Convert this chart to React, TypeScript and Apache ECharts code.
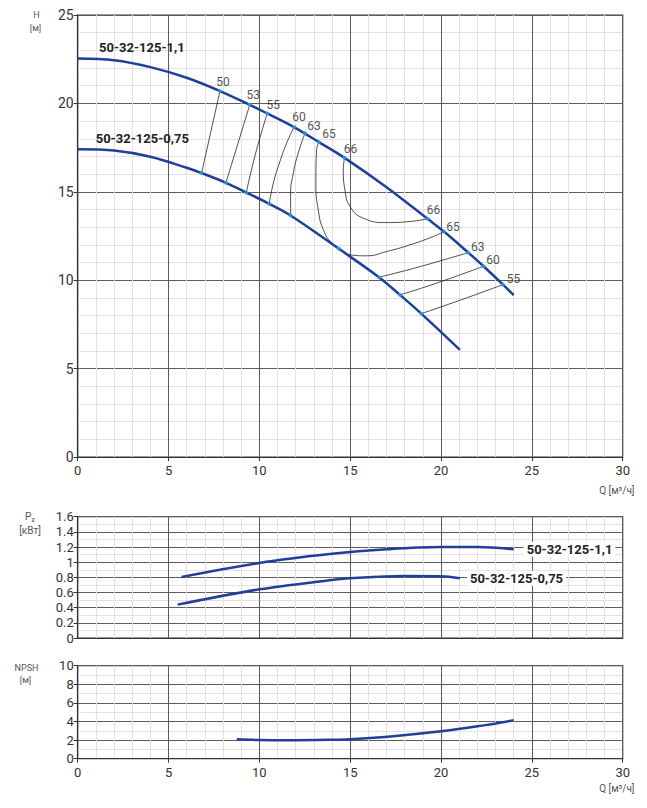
import React, { useEffect, useRef } from "react";
import * as echarts from "echarts";

// ---- Data (Q in m³/h) ----
const headLarge: [number, number][] = [
  [0, 22.54], [2, 22.44], [4, 22.05], [6, 21.45],
  [7.83, 20.7], [9.47, 19.92], [10.43, 19.43], [11.9, 18.66], [13.28, 17.81], [14.69, 16.92],
  [17, 15.26], [19.26, 13.47], [20.16, 12.75], [21.5, 11.56], [22.34, 10.79], [23.41, 9.75], [24.0, 9.15],
];
const headSmall: [number, number][] = [
  [0, 17.4], [2, 17.33], [4, 16.98], [6, 16.36],
  [6.82, 16.06], [8.16, 15.51], [9.28, 14.96], [10.54, 14.32], [11.72, 13.66], [14.36, 11.79],
  [16.58, 10.17], [17.74, 9.17], [18.91, 8.11], [21.04, 6.06],
];

const iso50: [number, number][] = [[7.83, 20.7], [6.82, 16.06]];
const iso53: [number, number][] = [[9.47, 19.92], [8.16, 15.51]];
const iso55: [number, number][] = [[10.43, 19.43], [9.8, 17.2], [9.28, 14.96]];
const iso60: [number, number][] = [[11.9, 18.64], [11.5, 17.75], [11.1, 16.62], [10.77, 15.49], [10.54, 14.32]];
const iso63: [number, number][] = [[12.51, 18.32], [12.14, 17.19], [11.87, 16.06], [11.72, 14.92], [11.72, 13.66]];
const iso65: [number, number][] = [
  [13.28, 17.81], [13.15, 17.37], [13.11, 15.49], [13.24, 13.98], [13.52, 12.85], [13.98, 12.09],
  [14.36, 11.79], [14.99, 11.43], [15.9, 11.38], [17.0, 11.62], [18.29, 12.0], [19.57, 12.47], [20.16, 12.75],
];
const iso66: [number, number][] = [
  [14.69, 16.92], [14.62, 16.24], [14.71, 15.11], [14.99, 14.17], [15.72, 13.51],
  [17.0, 13.26], [18.29, 13.32], [19.26, 13.47],
];
const iso63R: [number, number][] = [[16.58, 10.17], [18.6, 10.7], [21.5, 11.56]];
const iso60R: [number, number][] = [[17.74, 9.17], [19.8, 9.85], [22.34, 10.79]];
const iso55R: [number, number][] = [[18.91, 8.11], [21.0, 8.85], [23.41, 9.75]];

// efficiency marks [Q, H, η]
const effLabelsLeft: [number, number, number][] = [
  [7.83, 20.7, 50], [9.47, 19.92, 53], [10.43, 19.43, 55], [11.9, 18.66, 60],
  [12.51, 18.32, 63], [13.28, 17.81, 65], [14.69, 16.92, 66],
];
const effLabelsRight: [number, number, number][] = [
  [19.26, 13.47, 66], [20.16, 12.75, 65], [21.5, 11.56, 63], [22.34, 10.79, 60], [23.41, 9.75, 55],
];
const effLowerPoints: [number, number][] = [
  [6.82, 16.06], [8.16, 15.51], [9.28, 14.96], [10.54, 14.32], [11.72, 13.66],
  [14.36, 11.79], [16.58, 10.17], [17.74, 9.17], [18.91, 8.11],
];
// label placement (pixels) for the efficiency numbers
const labelOffsetsLeft: [number, number][] = [[3, -9], [3.5, -10], [6, -8], [5, -10], [9, -7.5], [10, -8], [6, -9]];
const labelOffsetsRight: [number, number][] = [[6, -9], [9, -5], [9.5, -6], [9.5, -6.5], [10.5, -6]];

const powerLarge: [number, number][] = [
  [5.72, 0.805], [10, 0.99], [14, 1.11], [17, 1.17], [20, 1.2], [22, 1.2], [24, 1.17],
];
const powerSmall: [number, number][] = [
  [5.5, 0.44], [10, 0.642], [13.85, 0.761], [15, 0.788], [18, 0.818], [20, 0.814], [21.04, 0.788],
];
const npsh: [number, number][] = [
  [8.76, 2.08], [10, 2.01], [11.5, 1.98], [13.85, 2.03], [15, 2.1], [17.5, 2.45],
  [20, 2.95], [22, 3.48], [24, 4.13],
];

const modelLarge = "50-32-125-1,1";
const modelSmall = "50-32-125-0,75";

const FONT = "Roboto";
const BLUE = "#1f3f99";
const DOT = "#1ea3e8";

function xAxis(gridIndex: number, showLabels: boolean) {
  return {
    type: "value",
    gridIndex,
    min: 0,
    max: 30,
    interval: 5,
    axisLine: { show: true, onZero: false, lineStyle: { color: "#333", width: 1.2 } },
    axisTick: { show: showLabels, length: 4, lineStyle: { color: "#333" } },
    axisLabel: { show: showLabels, color: "#333", fontSize: 13, fontFamily: FONT, margin: 7 },
    splitLine: { show: true, lineStyle: { color: "#5c5c5c", width: 1 } },
    minorTick: { show: true, splitNumber: 5, length: 0 },
    minorSplitLine: { show: true, lineStyle: { color: "#e2e2e2", width: 1 } },
  };
}

function yAxis(gridIndex: number, max: number, interval: number, minorSplit: number, fontSize: number) {
  return {
    type: "value",
    gridIndex,
    min: 0,
    max,
    interval,
    axisLine: { show: true, onZero: false, lineStyle: { color: "#333", width: 1.2 } },
    axisTick: { show: true, length: 4, lineStyle: { color: "#333" } },
    axisLabel: { color: "#333", fontSize, fontFamily: FONT, margin: 4 },
    splitLine: { show: true, lineStyle: { color: "#5c5c5c", width: 1 } },
    minorTick: { show: true, splitNumber: minorSplit, length: 0 },
    minorSplitLine: { show: true, lineStyle: { color: "#e2e2e2", width: 1 } },
  };
}

function curve(data: [number, number][], idx: number, extra: any = {}) {
  return {
    type: "line",
    xAxisIndex: idx,
    yAxisIndex: idx,
    data,
    smooth: 0.35,
    showSymbol: false,
    lineStyle: { color: BLUE, width: 2.5 },
    z: 3,
    silent: true,
    ...extra,
  };
}

function iso(data: [number, number][]) {
  return {
    type: "line",
    xAxisIndex: 0,
    yAxisIndex: 0,
    data,
    smooth: 0.5,
    showSymbol: false,
    lineStyle: { color: "#222", width: 0.8 },
    z: 2,
    silent: true,
  };
}

function effSeries(points: [number, number, number][], offsets: [number, number][]) {
  return {
    type: "scatter",
    xAxisIndex: 0,
    yAxisIndex: 0,
    symbolSize: 4,
    itemStyle: { color: DOT },
    z: 5,
    data: points.map((p, i) => ({ value: p, label: { offset: offsets[i] } })),
    label: {
      show: true,
      position: "inside",
      formatter: (p: any) => String(p.value[2]),
      color: "#222",
      fontSize: 12,
      fontFamily: FONT,
    },
  };
}

const smallText = (x: number, y: number, text: string, size = 9, align = "center") => ({
  type: "text",
  x,
  y,
  style: { text, fontSize: size, fontFamily: FONT, fill: "#555", align, verticalAlign: "middle" },
});

export default function App() {
  const ref = useRef<HTMLDivElement>(null);
  useEffect(() => {
    if (!ref.current) return;
    const chart = echarts.init(ref.current, undefined, { renderer: "svg" });
    const option: any = {
      animation: false,
      backgroundColor: "#fff",
      grid: [
        { left: 77.7, right: 24.3, top: 15, height: 442, show: true, borderColor: "#333", borderWidth: 1.2 },
        { left: 77.7, right: 24.3, top: 516.7, height: 121.3, show: true, borderColor: "#333", borderWidth: 1.2 },
        { left: 77.7, right: 24.3, top: 665.7, height: 93, show: true, borderColor: "#333", borderWidth: 1.2 },
      ],
      xAxis: [xAxis(0, true), xAxis(1, false), xAxis(2, true)],
      yAxis: [yAxis(0, 25, 5, 5, 14), yAxis(1, 1.6, 0.2, 2, 13), yAxis(2, 10, 2, 2, 13)],
      series: [
        iso(iso50), iso(iso53), iso(iso55), iso(iso60), iso(iso63), iso(iso65), iso(iso66),
        iso(iso63R), iso(iso60R), iso(iso55R),
        curve(headLarge, 0),
        curve(headSmall, 0),
        effSeries(effLabelsLeft, labelOffsetsLeft),
        effSeries(effLabelsRight, labelOffsetsRight),
        {
          type: "scatter",
          xAxisIndex: 0,
          yAxisIndex: 0,
          data: effLowerPoints,
          symbolSize: 4,
          itemStyle: { color: DOT },
          z: 5,
        },
        curve(powerLarge, 1, {
          name: modelLarge,
          endLabel: {
            show: true,
            formatter: modelLarge,
            distance: 10,
            backgroundColor: "#fff",
            padding: [1, 3],
            color: "#222",
            fontSize: 13,
            fontWeight: "bold",
            fontFamily: FONT,
          },
        }),
        curve(powerSmall, 1, {
          name: modelSmall,
          endLabel: {
            show: true,
            formatter: modelSmall,
            distance: 7,
            backgroundColor: "#fff",
            padding: [1, 3],
            color: "#222",
            fontSize: 13,
            fontWeight: "bold",
            fontFamily: FONT,
          },
        }),
        curve(npsh, 2),
      ],
      graphic: [
        {
          type: "text",
          x: 99,
          y: 47.3,
          z: 10,
          style: { text: modelLarge, fontSize: 13, fontWeight: "bold", fontFamily: FONT, fill: "#222", verticalAlign: "middle" },
        },
        {
          type: "text",
          x: 95.7,
          y: 138.3,
          z: 10,
          style: { text: modelSmall, fontSize: 13, fontWeight: "bold", fontFamily: FONT, fill: "#222", verticalAlign: "middle" },
        },
        smallText(36.5, 15, "H"),
        smallText(35.5, 28, "[м]"),
        smallText(634.5, 490.7, "Q [м³/ч]", 10, "right"),
        smallText(30, 516, "P₂", 10),
        smallText(30, 530, "[кВт]", 10),
        smallText(26.5, 668, "NPSH", 9),
        smallText(25.5, 680, "[м]", 9),
        smallText(634.5, 788.5, "Q [м³/ч]", 10, "right"),
      ],
    };
    chart.setOption(option);
    return () => chart.dispose();
  }, []);
  return (
    <div
      ref={ref}
      style={{ position: "absolute", left: 0, top: 0, width: 647, height: 808, background: "#fff" }}
    />
  );
}
